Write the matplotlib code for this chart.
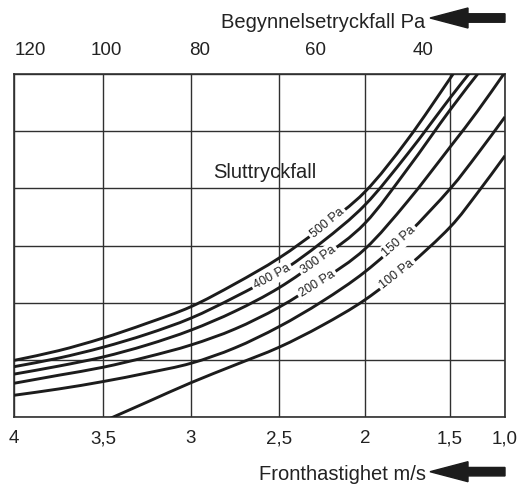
import numpy as np
import matplotlib
matplotlib.use("Agg")
import matplotlib.pyplot as plt
from matplotlib.patches import FancyArrow, PathPatch
from matplotlib.path import Path

plt.rcParams['font.family'] = ['Liberation Sans', 'DejaVu Sans']

# Front velocity (m/s) on the lower axis, left to right
velocity_ticks = [4, 3.5, 3, 2.5, 2, 1.5, 1.0]
velocity_labels = ['4', '3,5', '3', '2,5', '2', '1,5', '1,0']
# Relative width of each velocity interval (the last one is compressed)
velocity_gap = [89, 88, 88, 86, 85, 55]

# Initial pressure drop (Pa) along the upper axis and the velocity it sits at
initial_drop = [120, 100, 80, 60, 40]
initial_drop_velocity = [3.91, 3.48, 2.95, 2.29, 1.66]

# Final pressure drop curves: velocity (m/s) and chart level (grid units)
v_500 = [4, 3.75, 3.5, 3.25, 3, 2.75, 2.5, 2.25, 2, 1.75, 1.5, 1.45]
lvl_500 = [0.99, 1.16, 1.38, 1.64, 1.93, 2.33, 2.78, 3.32, 3.94, 4.85, 5.92, 6.07]

v_400 = [4, 3.75, 3.5, 3.25, 3, 2.75, 2.5, 2.25, 2, 1.75, 1.5, 1.3]
lvl_400 = [0.88, 1.03, 1.22, 1.45, 1.73, 2.10, 2.52, 3.06, 3.71, 4.60, 5.58, 6.07]

v_300 = [4, 3.75, 3.5, 3.25, 3, 2.75, 2.5, 2.25, 2, 1.75, 1.5, 1.2]
lvl_300 = [0.75, 0.89, 1.05, 1.26, 1.52, 1.85, 2.26, 2.78, 3.39, 4.34, 5.37, 6.12]

v_200 = [4, 3.75, 3.5, 3.25, 3, 2.75, 2.5, 2.25, 2, 1.75, 1.5, 1.25, 1.0]
lvl_200 = [0.59, 0.73, 0.87, 1.05, 1.26, 1.54, 1.92, 2.39, 2.94, 3.77, 4.72, 5.35, 6.03]

v_150 = [4, 3.75, 3.5, 3.25, 3, 2.75, 2.5, 2.25, 2, 1.75, 1.5, 1.25, 1.0]
lvl_150 = [0.38, 0.49, 0.62, 0.77, 0.94, 1.21, 1.58, 2.02, 2.54, 3.20, 3.99, 4.60, 5.25]

v_100 = [3.5, 3.25, 3, 2.75, 2.5, 2.25, 2, 1.75, 1.5, 1.25, 1.0]
lvl_100 = [-0.08, 0.26, 0.60, 0.91, 1.22, 1.60, 2.05, 2.63, 3.32, 3.92, 4.57]

curve_labels = ['500 Pa', '400 Pa', '300 Pa', '200 Pa', '150 Pa', '100 Pa']
curve_label_velocity = [2.22, 2.54, 2.27, 2.28, 1.80, 1.81]

curves = [(v_500, lvl_500), (v_400, lvl_400), (v_300, lvl_300),
          (v_200, lvl_200), (v_150, lvl_150), (v_100, lvl_100)]

# Piecewise-linear velocity scale built from the gridline spacing
vel_asc = np.array(velocity_ticks[::-1], float)
pos_asc = np.concatenate([[0.0], np.cumsum(velocity_gap[::-1])]).astype(float)


def _pw(x, xp, fp):
    x = np.asarray(x, float)
    out = np.interp(x, xp, fp)
    s_lo = (fp[1] - fp[0]) / (xp[1] - xp[0])
    s_hi = (fp[-1] - fp[-2]) / (xp[-1] - xp[-2])
    out = np.where(x < xp[0], fp[0] + (x - xp[0]) * s_lo, out)
    out = np.where(x > xp[-1], fp[-1] + (x - xp[-1]) * s_hi, out)
    return out


def vel_forward(v):
    return _pw(v, vel_asc, pos_asc)


def vel_inverse(u):
    return _pw(u, pos_asc, vel_asc)


def smooth_curve_path(v, lvl):
    """Cubic Bezier path through the points (Catmull-Rom tangents),
    built on the scaled velocity axis so it stays smooth on screen."""
    P = np.column_stack([vel_forward(v), np.asarray(lvl, float)])
    ext = np.vstack([2 * P[0] - P[1], P, 2 * P[-1] - P[-2]])
    verts = [P[0]]
    codes = [Path.MOVETO]
    for i in range(len(P) - 1):
        p_prev, p0, p1, p_next = ext[i], ext[i + 1], ext[i + 2], ext[i + 3]
        c1 = p0 + (p1 - p_prev) / 6.0
        c2 = p1 - (p_next - p0) / 6.0
        verts += [c1, c2, p1]
        codes += [Path.CURVE4] * 3
    verts = np.array(verts)
    verts[:, 0] = vel_inverse(verts[:, 0])
    return Path(verts, codes)


ink = '#1c1c1c'
text_col = '#222222'

fig = plt.figure(figsize=(5.23, 4.87), dpi=100)
ax = fig.add_axes([14 / 523, 70 / 487, 491 / 523, 343 / 487])
ax.set_xscale('function', functions=(vel_forward, vel_inverse))
ax.set_xlim(4, 1.0)
ax.set_ylim(0, 6)

ax.set_xticks(velocity_ticks, velocity_labels)
ax.set_yticks(range(7))
ax.set_yticklabels([])
ax.tick_params(axis='x', length=0, pad=9.5, labelsize=13.5, labelcolor=text_col)
ax.tick_params(axis='y', length=0)
ax.grid(True, color='#303030', lw=1.0)
for sp in ax.spines.values():
    sp.set_linewidth(1.2)
    sp.set_color('#303030')

for v, lvl in curves:
    ax.add_patch(PathPatch(smooth_curve_path(v, lvl), fill=False, ec=ink,
                           lw=2.1, capstyle='butt', zorder=3))

# Initial pressure drop labels above the frame
for pa, v in zip(initial_drop, initial_drop_velocity):
    ax.annotate(str(pa), xy=(v, 1), xycoords=('data', 'axes fraction'),
                xytext=(0, 11), textcoords='offset points',
                ha='center', va='bottom', fontsize=13.5, color=text_col)

# In-line curve labels, rotated along each curve
fig.canvas.draw()
for (v, lvl), lab, lv in zip(curves, curve_labels, curve_label_velocity):
    va = np.array(v[::-1], float)
    la = np.array(lvl[::-1], float)
    y = np.interp(lv, va, la)
    p0 = ax.transData.transform((lv + 0.03, np.interp(lv + 0.03, va, la)))
    p1 = ax.transData.transform((lv - 0.03, np.interp(lv - 0.03, va, la)))
    ang = np.degrees(np.arctan2(p1[1] - p0[1], p1[0] - p0[0]))
    ax.text(lv, y, lab, rotation=ang, rotation_mode='anchor',
            ha='center', va='center', fontsize=9, color=text_col, zorder=5,
            bbox=dict(boxstyle='square,pad=0.2', fc='white', ec='none'))

ax.text(2.875, 4.18, 'Sluttryckfall', ha='left', va='baseline',
        fontsize=14.5, color=text_col, zorder=4)

# Axis titles with direction arrows
fig.text(425 / 523, (487 - 27.7) / 487, 'Begynnelsetryckfall Pa',
         ha='right', va='baseline', fontsize=14.5, color=text_col)
fig.text(426 / 523, (487 - 480) / 487, 'Fronthastighet m/s',
         ha='right', va='baseline', fontsize=14.5, color=text_col)

for yc in (4.69, 0.153):
    fig.patches.append(FancyArrow(5.05, yc, -0.75, 0, width=0.085,
                                  head_width=0.20, head_length=0.38,
                                  length_includes_head=True, color=ink,
                                  transform=fig.dpi_scale_trans))

fig.savefig('out.png', dpi=100)
